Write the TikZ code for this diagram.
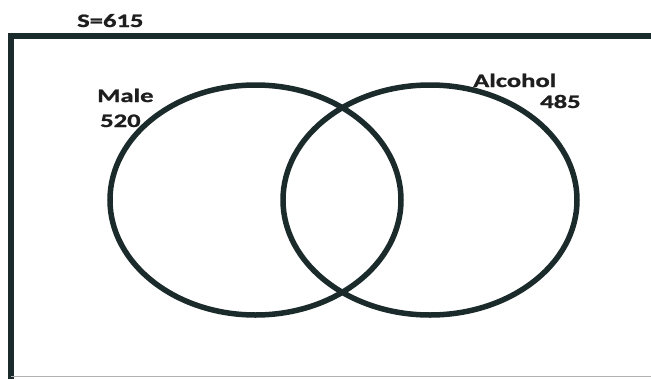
\documentclass[tikz,border=0pt]{standalone}
\usepackage{fontspec}
\newfontfamily\lab[FakeStretch=1.4,FakeBold=1.2]{Carlito}
\usetikzlibrary{shapes.geometric}
\definecolor{ink}{HTML}{1B2B2B}
\definecolor{txt}{HTML}{1E1E1E}
\tikzset{
  venn/.style={ellipse, draw=ink, line width=5.5pt, inner sep=0pt},
  lbl/.style={anchor=base west, inner sep=0pt, text=txt, font=\lab\fontsize{19}{21}\selectfont\bfseries}
}
\begin{document}
\begin{tikzpicture}[x=1pt,y=-1pt]
\useasboundingbox (0,0) rectangle (651,378);
\fill[white] (0,0) rectangle (651,378);
\clip (0,0) rectangle (651,378);
% frame
\draw[ink, line width=5.5pt] (660,36) -- (11,36) -- (11,380);
\draw[gray!60, line width=1.2pt] (11,376.5) -- (660,376.5);
% circles
\node[venn, minimum width=291pt, minimum height=230pt] (male) at (255.5,200) {};
\node[venn, minimum width=294pt, minimum height=230pt] (alc) at (430,200) {};
% labels
\node[lbl] (s) at (77,27) {S=615};
\node[lbl] (malet) at (97,102) {Male};
\node[lbl] (malen) at (100,127) {520};
\node[lbl] (alct) at (473,87) {Alcohol};
\node[lbl] (alcn) at (540,108) {485};
\end{tikzpicture}
\end{document}
